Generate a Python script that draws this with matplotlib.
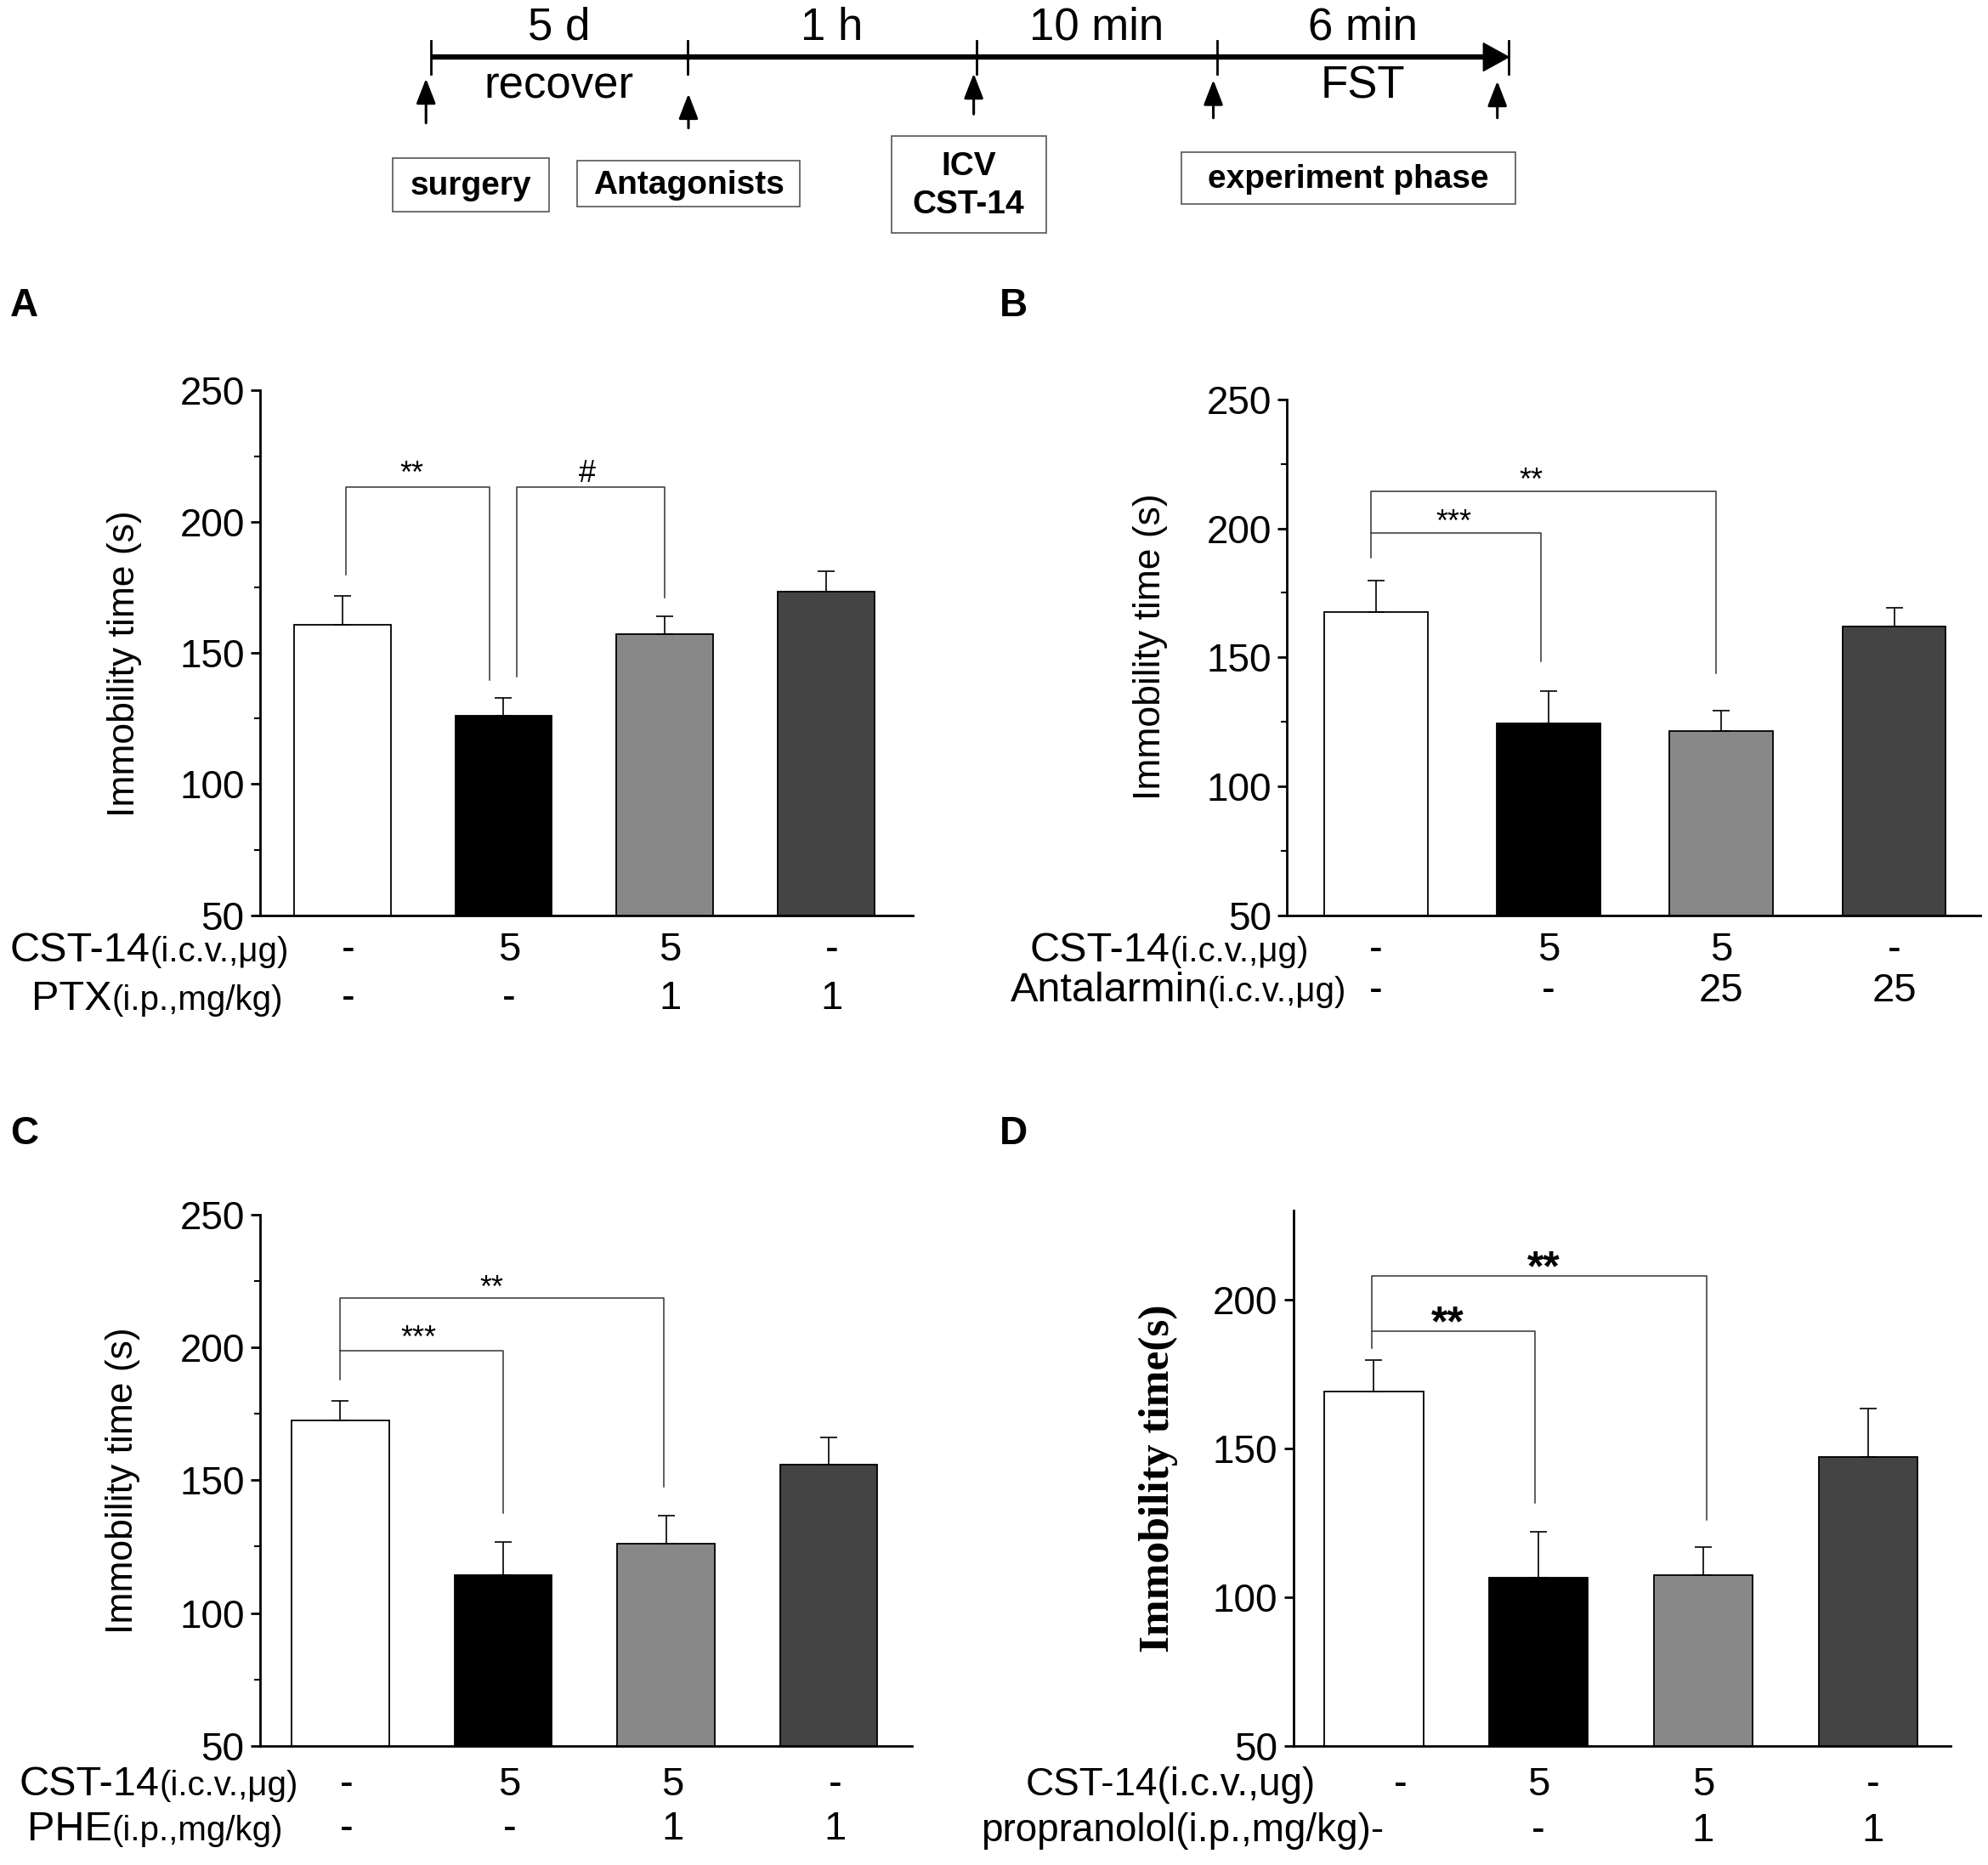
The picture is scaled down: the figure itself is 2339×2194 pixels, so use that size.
import matplotlib
matplotlib.use('Agg')
import matplotlib.pyplot as plt
from matplotlib.patches import Rectangle
from matplotlib.offsetbox import TextArea, HPacker, AnnotationBbox

plt.rcParams['font.family'] = ['Liberation Sans', 'DejaVu Sans']

# ---- data -------------------------------------------------------------
bar_colors = ['white', 'black', '#888888', '#444444']

a_vals = [160.6, 126.2, 157.3, 173.3]
a_err = [11.2, 6.8, 6.7, 7.8]
b_vals = [167.5, 124.5, 121.3, 161.8]
b_err = [12.4, 12.4, 8.0, 7.4]
c_vals = [172.4, 114.4, 126.1, 155.8]
c_err = [7.5, 12.5, 10.6, 10.2]
d_vals = [169.1, 106.5, 107.5, 147.1]
d_err = [10.6, 15.6, 9.3, 16.3]

cst_row = ['-', '5', '5', '-']
a_row2 = ['-', '-', '1', '1']
b_row2 = ['-', '-', '25', '25']
c_row2 = ['-', '-', '1', '1']
d_row2 = ['', '-', '1', '1']

# significance brackets: x0, x1, top, left leg end, right leg end, mark, mark x, mark baseline
a_sig = [(0.02, 0.915, 213.3, 179.8, 139.8, '**', 0.43, 215),
         (1.08, 2.0, 213.3, 141.0, 171.0, '#', 1.52, 215)]
b_sig = [(-0.03, 0.955, 198.3, 188.8, 148.5, '***', 0.45, 199),
         (-0.03, 1.97, 214.4, 198.3, 143.9, '**', 0.9, 215)]
c_sig = [(0.0, 1.0, 198.8, 187.8, 137.5, '***', 0.48, 200),
         (0.0, 1.985, 218.5, 198.8, 147.5, '**', 0.93, 219)]
d_sig = [(-0.015, 0.98, 189.5, 183.7, 131.7, '**', 0.45, 188),
         (-0.015, 2.02, 208.2, 189.5, 126.1, '**', 1.03, 206.5)]

# timeline
durations = ['5 d', '1 h', '10 min', '6 min']
under_line = ['recover', '', '', 'FST']
steps = ['surgery', 'Antagonists', 'ICV\nCST-14', 'experiment phase']

# ---- figure -----------------------------------------------------------
W, H = 1568, 1471          # layout units (pixels of the reference at 67%)
fig = plt.figure(figsize=(23.39, 21.94), dpi=100)

# timeline drawn in layout units
tl = fig.add_axes([0, 0, 1, 1])
tl.set_xlim(0, W)
tl.set_ylim(H, 0)
tl.axis('off')
tl.patch.set_alpha(0)

ticks_x = [340, 542, 770, 960, 1190]
line_y = 45
tl.plot([ticks_x[0], 1175], [line_y, line_y], color='black', lw=4.5, solid_capstyle='butt')
tl.fill([1170, 1190, 1170], [line_y - 11, line_y, line_y + 11], color='black')
for x in ticks_x:
    tl.plot([x, x], [line_y - 13, line_y + 13], color='black', lw=2)
for i, txt in enumerate(durations):
    xm = (ticks_x[i] + ticks_x[i + 1]) / 2
    tl.text(xm, 22, txt, ha='center', va='center', fontsize=38)
    if under_line[i]:
        tl.text(xm, 68, under_line[i], ha='center', va='center', fontsize=38)

arrows = [(336, 97, 62), (543, 101, 74), (768, 90, 58), (957, 93, 63), (1181, 93, 64)]
for x, y0, y1 in arrows:
    tl.annotate('', xy=(x, y1), xytext=(x, y0),
                arrowprops=dict(arrowstyle='-|>,head_length=0.9,head_width=0.35',
                                lw=2.2, color='black', mutation_scale=20, shrinkA=0, shrinkB=0))

boxes = [(310, 125, 433, 167), (455, 127, 631, 163), (703, 107, 825, 184), (932, 120, 1195, 161)]
for (x0, y0, x1, y1), txt in zip(boxes, steps):
    tl.add_patch(Rectangle((x0, y0), x1 - x0, y1 - y0, fill=False, ec='#555555', lw=1.2))
    tl.text((x0 + x1) / 2, (y0 + y1) / 2 + 1, txt, ha='center', va='center',
            fontsize=28, fontweight='bold', linespacing=1.35)


def panel(rect, vals, errs, xlim, ylim, yticks, minor, sig, rows, row_off, label_x,
          val_shift, ylab, ylab_pos, serif=False, star_size=26, star_bold=False,
          big_size=35, small_size=29):
    ax = fig.add_axes(rect)
    x = list(range(len(vals)))
    ax.bar(x, vals, width=0.6, color=bar_colors, edgecolor='black', linewidth=1.3, zorder=2)
    ax.errorbar(x, vals, yerr=[[0] * len(errs), errs], fmt='none', ecolor='black',
                elinewidth=1.2, capsize=7, capthick=1.2, zorder=3)
    ax.set_xlim(*xlim)
    ax.set_ylim(*ylim)
    ax.set_yticks(yticks)
    ax.set_yticks(minor, minor=True)
    ax.set_xticks([])
    for s in ['top', 'right']:
        ax.spines[s].set_visible(False)
    for s in ['left', 'bottom']:
        ax.spines[s].set_linewidth(2)
    ax.tick_params(axis='y', which='major', direction='out', length=8, width=2,
                   labelsize=33, pad=5)
    ax.tick_params(axis='y', which='minor', direction='out', length=5, width=1.5)
    if serif:
        ax.set_ylabel(ylab, fontsize=37, fontweight='bold', family='Liberation Serif')
    else:
        ax.set_ylabel(ylab, fontsize=32)
    ax.yaxis.set_label_coords(*ylab_pos)

    for x0, x1, yt, yl, yr, mark, mx, my in sig:
        ax.plot([x0, x0, x1, x1], [yl, yt, yt, yr], color='#333333', lw=1.1, zorder=4)
        ax.text(mx, my, mark, ha='center', va='baseline', fontsize=star_size,
                fontweight='bold' if star_bold else 'normal')

    # treatment rows below the axis
    for (big, small, values), off, lx in zip(rows, row_off, label_x):
        parts = [TextArea(big, textprops=dict(fontsize=big_size))]
        if small:
            parts.append(TextArea(small, textprops=dict(fontsize=small_size)))
        pack = HPacker(children=parts, align='baseline', pad=0, sep=0)
        ab = AnnotationBbox(pack, (lx, 0), xycoords=('data', 'axes fraction'),
                            xybox=(0, -off), boxcoords='offset points',
                            box_alignment=(1, 0.5), frameon=False, annotation_clip=False)
        ax.add_artist(ab)
        for i, v in enumerate(values):
            if v:
                ax.annotate(v, (i + val_shift[i], 0), xycoords=('data', 'axes fraction'),
                            xytext=(0, -off), textcoords='offset points',
                            ha='center', va='center', fontsize=34, annotation_clip=False)
    return ax


major = [50, 100, 150, 200, 250]
minor = [75, 125, 175, 225]

panel([0.1307, 0.5092, 0.3285, 0.2814], a_vals, a_err, (-0.512, 3.54), (50, 250), major, minor,
      a_sig, [('CST-14', '(i.c.v.,μg)', cst_row), ('PTX', '(i.p.,mg/kg)', a_row2)],
      [30, 71], [-0.33, -0.37], [0.035] * 4, 'Immobility time (s)', (-0.18, 0.48))

panel([0.6473, 0.5092, 0.3489, 0.2767], b_vals, b_err, (-0.516, 3.5), (50, 250), major, minor,
      b_sig, [('CST-14', '(i.c.v.,μg)', cst_row), ('Antalarmin', '(i.c.v.,μg)', b_row2)],
      [30, 64], [-0.39, -0.17], [0.0] * 4, 'Immobility time (s)', (-0.172, 0.52))

panel([0.1307, 0.0639, 0.3279, 0.2848], c_vals, c_err, (-0.495, 3.51), (50, 250), major, minor,
      c_sig, [('CST-14', '(i.c.v.,μg)', cst_row), ('PHE', '(i.p.,mg/kg)', c_row2)],
      [33, 71], [-0.26, -0.35], [0.04] * 4, 'Immobility time (s)', (-0.183, 0.5))

panel([0.6505, 0.0639, 0.3305, 0.2869], d_vals, d_err, (-0.49, 3.5), (50, 230),
      [50, 100, 150, 200], [], d_sig,
      [('CST-14(i.c.v.,ug)', '', cst_row), ('propranolol(i.p.,mg/kg)-', '', d_row2)],
      [33, 72], [-0.355, 0.06], [0.16, 0, 0, 0.03], 'Immobility time(s)', (-0.175, 0.5),
      serif=True, star_size=36, star_bold=True, big_size=33)

for lab, fx, fy in [('A', 0.005, 0.836), ('B', 0.5026, 0.836), ('C', 0.005, 0.392), ('D', 0.5026, 0.392)]:
    fig.text(fx, fy, lab, fontsize=33, fontweight='bold', ha='left', va='center')

fig.savefig('out.png', dpi=100, facecolor='white')
